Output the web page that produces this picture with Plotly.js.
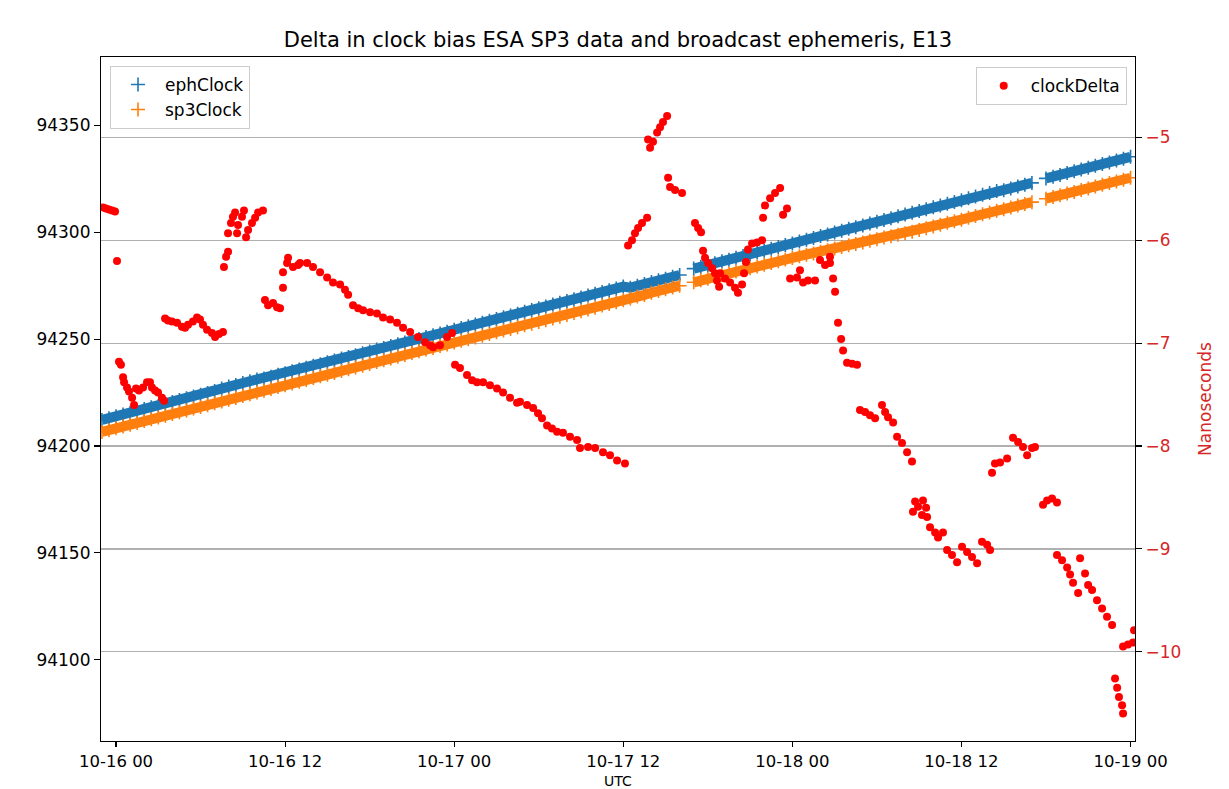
<!DOCTYPE html>
<html>
<head>
<meta charset="utf-8">
<script src="https://cdn.plot.ly/plotly-3.0.1.min.js"></script>
<style>html,body{margin:0;padding:0;background:#fff}#chart{width:1229px;height:789px}</style>
</head>
<body>
<div id="chart"></div>
<script>
// ---- data ----
const baseDateMs = Date.UTC(2022, 9, 16, 0, 0, 0); // 10-16 00 UTC
const clockStartHour = -1;
const clockStepHours = 0.5;

const ephClock = [
  94212.2, 94213.0, 94213.9, 94214.7, 94215.6, 94216.4, 94217.3, 94218.1, 94218.9, 94219.8,
  94220.6, 94221.5, 94222.3, 94223.2, 94224.0, 94224.8, 94225.7, 94226.9, 94227.8, 94228.6,
  94229.5, 94230.3, 94231.1, 94231.6, 94232.4, 94233.3, 94234.1, 94235.0, 94235.8, 94236.6,
  94237.5, 94238.3, 94239.2, 94240.0, 94240.9, 94241.7, 94242.5, 94243.4, 94244.2, 94245.1,
  94245.9, 94246.8, 94247.6, 94248.4, 94249.3, 94250.1, 94251.0, 94251.8, 94252.7, 94253.5,
  94254.4, 94255.2, 94256.0, 94256.9, 94257.7, 94258.6, 94259.4, 94260.3, 94261.1, 94261.9,
  94262.8, 94263.6, 94264.5, 94265.3, 94266.2, 94267.0, 94267.8, 94268.7, 94269.5, 94270.4,
  94271.2, 94272.1, 94272.9, 94273.7, 94274.6, 94274.1, 94275.0, 94275.8, 94276.7, 94277.5,
  94278.3, 94279.2, 94280.0, null,    94283.0, 94283.9, 94284.7, 94285.5, 94286.4, 94287.2,
  94288.1, 94288.9, 94289.8, 94290.6, 94291.4, 94292.3, 94293.1, 94294.0, 94294.8, 94295.7,
  94296.5, 94297.3, 94298.2, 94299.0, 94299.9, 94300.7, 94301.6, 94302.4, 94303.2, 94304.1,
  94304.9, 94305.8, 94306.6, 94307.5, 94308.3, 94309.1, 94310.0, 94310.8, 94311.7, 94312.5,
  94313.4, 94314.2, 94315.0, 94315.9, 94316.7, 94317.6, 94318.4, 94319.3, 94319.7, 94320.5,
  94321.4, 94322.2, 94323.1, null,    94325.2, 94326.0, 94326.8, 94327.7, 94328.5, 94329.4,
  94330.2, 94331.1, 94331.9, 94332.7, 94333.6, 94334.4, 94335.3
];

const sp3Clock = [
  94206.6, 94207.4, 94208.3, 94209.1, 94210.0, 94210.8, 94211.7, 94212.5, 94213.3, 94214.2,
  94215.0, 94215.8, 94216.6, 94217.5, 94218.3, 94219.1, 94220.0, 94220.8, 94221.7, 94222.5,
  94223.4, 94224.2, 94225.0, 94225.9, 94226.7, 94227.6, 94228.4, 94229.3, 94230.1, 94230.9,
  94231.8, 94232.6, 94233.4, 94234.2, 94235.1, 94235.9, 94236.7, 94237.6, 94238.4, 94239.3,
  94240.1, 94241.0, 94241.8, 94242.6, 94243.5, 94244.3, 94245.1, 94245.9, 94246.8, 94247.5,
  94248.4, 94249.2, 94249.9, 94250.8, 94251.6, 94252.4, 94253.2, 94254.1, 94254.8, 94255.6,
  94256.5, 94257.2, 94258.0, 94258.8, 94259.7, 94260.5, 94261.3, 94262.2, 94263.0, 94263.9,
  94264.7, 94265.7, 94266.5, 94267.3, 94268.2, 94269.0, 94269.9, 94270.7, 94271.7, 94272.5,
  94273.3, 94274.2, 94275.0, null,    94276.6, 94277.5, 94278.3, 94279.0, 94279.9, 94280.7,
  94281.6, 94282.3, 94283.2, 94284.0, 94284.8, 94285.6, 94286.4, 94287.3, 94288.0, 94288.8,
  94289.5, 94290.1, 94290.9, 94291.6, 94292.4, 94293.1, 94293.9, 94294.5, 94295.2, 94296.0,
  94296.7, 94297.5, 94298.1, 94298.9, 94299.6, 94300.3, 94301.1, 94301.9, 94302.7, 94303.5,
  94304.4, 94305.2, 94305.9, 94306.8, 94307.6, 94308.4, 94309.2, 94310.1, 94310.8, 94311.6,
  94312.5, 94313.2, 94314.1, null,    94315.7, 94316.5, 94317.3, 94318.1, 94318.9, 94319.8,
  94320.5, 94321.4, 94322.2, 94323.0, 94323.8, 94324.6, 94325.5
];

// clockDelta: hours after 10-16 00 UTC, and nanoseconds
const deltaHours = [
  -0.92,-0.71,-0.50,-0.28,-0.07,0.07,
  0.21,0.35,0.50,0.57,0.78,0.92,1.14,1.28,1.42,1.63,1.92,2.20,2.41,2.55,2.77,2.98,3.26,3.41,
  3.48,3.69,3.97,4.33,4.68,4.90,5.11,5.46,5.75,5.96,6.17,6.46,6.81,7.03,7.31,7.59,
  7.95,7.81,7.66,
  7.95,8.16,8.30,8.45,8.59,8.66,8.94,9.08,9.23,9.37,9.65,9.87,10.08,10.43,
  10.57,10.79,11.14,11.43,11.64,
  11.85,11.85,12.14,12.21,12.56,12.92,
  13.06,13.56,13.98,14.48,14.98,15.40,15.90,16.25,16.47,16.82,17.18,17.53,18.03,18.52,18.95,19.45,19.94,20.37,20.87,21.43,21.93,22.29,22.50,22.99,23.49,23.85,
  24.06,24.41,24.91,25.27,25.62,26.05,26.54,27.04,27.47,27.96,28.46,28.67,29.17,29.60,29.95,30.23,30.59,30.94,31.30,31.72,32.22,32.72,32.93,33.50,34.00,34.56,35.06,35.56,36.12,
  36.34,36.62,36.83,37.05,37.33,37.69,
  37.76,37.90,38.11,38.40,38.61,38.82,39.11,
  39.18,39.32,39.67,40.17,
  41.09,41.31,41.52,
  41.66,41.80,42.02,42.30,42.51,42.65,42.80,42.87,43.22,43.58,43.93,44.14,
  44.43,44.57,44.71,44.85,45.14,45.49,45.85,
  45.92,46.06,46.42,46.77,47.13,47.34,47.62,
  47.84,48.33,48.54,48.76,49.11,49.61,49.96,50.32,50.67,50.67,
  50.89,51.03,51.24,51.46,51.60,51.88,52.24,52.59,
  52.80,53.16,53.51,53.87,54.36,54.58,54.79,55.15,55.43,55.78,56.14,56.49,
  56.56,56.71,56.92,57.20,57.27,57.49,57.56,57.77,58.13,58.34,58.69,58.98,59.33,59.69,60.04,60.40,60.75,61.11,61.46,61.82,62.03,
  62.17,62.38,62.74,63.24,63.66,64.02,64.37,64.66,65.01,65.22,
  65.79,66.08,66.43,66.78,
  66.78,67.14,67.50,67.71,67.92,68.28,68.42,68.77,68.99,69.27,69.62,69.98,70.33,70.69,
  71.47,71.82,72.18,72.25,
  70.90,71.05,71.18,71.40,71.47
];
const deltaNs = [
  -5.68,-5.69,-5.70,-5.71,-5.72,-6.20,
  -7.18,-7.21,-7.33,-7.38,-7.43,-7.47,-7.53,-7.60,-7.44,-7.46,-7.43,-7.38,-7.38,-7.43,-7.46,-7.48,-7.53,-7.56,
  -6.76,-6.78,-6.79,-6.80,-6.84,-6.85,-6.82,-6.79,-6.75,-6.77,-6.82,-6.87,-6.90,-6.94,-6.91,-6.89,
  -6.11,-6.16,-6.26,
  -5.93,-5.83,-5.77,-5.73,-5.93,-5.85,-5.77,-5.71,-5.97,-5.90,-5.83,-5.78,-5.73,-5.71,
  -6.58,-6.63,-6.61,-6.65,-6.66,
  -6.46,-6.31,-6.22,-6.17,-6.26,-6.24,
  -6.22,-6.22,-6.26,-6.31,-6.36,-6.41,-6.43,-6.48,-6.53,-6.63,-6.66,-6.68,-6.70,-6.71,-6.75,-6.77,-6.80,-6.85,-6.89,-6.94,-6.99,-7.02,-7.04,-7.02,-6.94,-6.90,
  -7.21,-7.24,-7.31,-7.36,-7.38,-7.38,-7.41,-7.44,-7.48,-7.53,-7.58,-7.57,-7.60,-7.63,-7.68,-7.73,-7.80,-7.83,-7.86,-7.87,-7.91,-7.94,-8.02,-8.01,-8.02,-8.06,-8.09,-8.14,-8.17,
  -6.05,-6.00,-5.93,-5.88,-5.83,-5.78,
  -5.02,-5.10,-5.04,-4.95,-4.90,-4.85,-4.79,
  -5.39,-5.48,-5.51,-5.54,
  -5.83,-5.88,-5.92,
  -6.10,-6.17,-6.22,-6.27,-6.32,-6.39,-6.45,-6.32,-6.37,-6.41,-6.46,-6.51,
  -6.43,-6.32,-6.21,-6.09,-6.03,-6.02,-6.00,
  -5.78,-5.66,-5.59,-5.54,-5.49,-5.75,-5.69,
  -6.37,-6.36,-6.29,-6.41,-6.39,-6.39,-6.19,-6.24,-6.16,-6.22,
  -6.37,-6.50,-6.80,-6.96,-7.07,-7.19,-7.20,-7.21,
  -7.65,-7.67,-7.70,-7.73,-7.60,-7.67,-7.72,-7.77,-7.91,-7.97,-8.06,-8.15,
  -8.64,-8.54,-8.59,-8.67,-8.53,-8.60,-8.69,-8.79,-8.84,-8.89,-8.84,-9.01,-9.06,-9.13,-8.98,-9.03,-9.08,-9.14,-8.93,-8.96,-9.01,
  -8.26,-8.17,-8.16,-8.12,-7.92,-7.96,-8.01,-8.09,-8.02,-8.01,
  -8.57,-8.53,-8.51,-8.55,
  -9.06,-9.11,-9.18,-9.25,-9.33,-9.43,-9.09,-9.24,-9.35,-9.40,-9.50,-9.58,-9.66,-9.74,
  -9.95,-9.93,-9.91,-9.79,
  -10.26,-10.35,-10.44,-10.52,-10.60
];

const leftTicks = [94100, 94150, 94200, 94250, 94300, 94350];
const rightTicks = [-10, -9, -8, -7, -6, -5];

// ---- build ----
const H = 3600 * 1000;
const clockTimes = ephClock.map((_, i) => baseDateMs + (clockStartHour + i * clockStepHours) * H);
const deltaTimes = deltaHours.map(h => baseDateMs + h * H);

const BLUE = '#1f77b4', ORANGE = '#ff7f0e';
const FONT = 'DejaVu Sans';

const traces = [
  {x: clockTimes, y: ephClock, type: 'scatter', mode: 'lines', connectgaps: false,
   line: {color: BLUE, width: 10}, showlegend: false, hoverinfo: 'skip'},
  {x: clockTimes, y: sp3Clock, type: 'scatter', mode: 'lines', connectgaps: false,
   line: {color: ORANGE, width: 10}, showlegend: false, hoverinfo: 'skip'},
  {x: clockTimes, y: ephClock, type: 'scatter', mode: 'markers', name: 'ephClock',
   marker: {symbol: 'cross-thin', size: 10, color: BLUE, line: {color: BLUE, width: 1.6}}},
  {x: clockTimes, y: sp3Clock, type: 'scatter', mode: 'markers', name: 'sp3Clock',
   marker: {symbol: 'cross-thin', size: 10, color: ORANGE, line: {color: ORANGE, width: 1.6}}},
  {x: deltaTimes, y: deltaNs, type: 'scatter', mode: 'markers', name: 'clockDelta',
   yaxis: 'y2', legend: 'legend2',
   marker: {symbol: 'circle', size: 8, color: '#ff0000'}}
];

const layout = {
  width: 1229, height: 789,
  margin: {l: 101, r: 94, t: 57, b: 48, pad: 0},
  paper_bgcolor: '#ffffff', plot_bgcolor: '#ffffff',
  font: {family: FONT, size: 17, color: '#000000'},
  title: {text: 'Delta in clock bias ESA SP3 data and broadcast ephemeris, E13',
          font: {family: FONT, size: 21, color: '#000000'},
          x: 0.5, xref: 'paper', xanchor: 'center', y: 1 - 40 / 789, yref: 'container', yanchor: 'middle'},
  xaxis: {
    type: 'date',
    range: ['2022-10-15 22:56', '2022-10-19 00:19'],
    tick0: '2022-10-16 00:00', dtick: 12 * H, tickformat: '%m-%d %H',
    ticks: 'outside', ticklen: 5, tickwidth: 1.1, tickcolor: '#000',
    showline: true, linecolor: '#000', linewidth: 1.1, mirror: true,
    showgrid: false, zeroline: false,
    tickfont: {family: FONT, size: 16.5, color: '#000'}
  },
  yaxis: {
    range: [94062, 94382],
    tickvals: leftTicks, ticktext: leftTicks.map(String),
    ticks: 'outside', ticklen: 6, tickwidth: 1.1, tickcolor: '#000',
    showline: true, linecolor: '#000', linewidth: 1.1, mirror: true,
    showgrid: false, zeroline: false,
    tickfont: {family: FONT, size: 17, color: '#000'}
  },
  yaxis2: {
    overlaying: 'y', side: 'right',
    range: [-10.868, -4.217],
    tickvals: rightTicks,
    ticks: 'outside', ticklen: 6, tickwidth: 1.1, tickcolor: '#000',
    showline: true, linecolor: '#000', linewidth: 1.1,
    showgrid: true, gridcolor: '#b0b0b0', gridwidth: 1.3, zeroline: false,
    tickfont: {family: FONT, size: 17, color: '#d62728'},
    title: {text: 'Nanoseconds', font: {family: FONT, size: 17, color: '#d62728'}, standoff: 18}
  },
  annotations: [{
    text: 'UTC', showarrow: false,
    xref: 'paper', yref: 'paper', x: 0.5, y: -(781 - 741) / 684,
    xanchor: 'center', yanchor: 'middle',
    font: {family: FONT, size: 14, color: '#000'}
  }],
  legend: {
    x: 0.0087, y: 0.987, xanchor: 'left', yanchor: 'top',
    bgcolor: 'rgba(255,255,255,0.8)', bordercolor: '#cccccc', borderwidth: 1,
    font: {family: FONT, size: 17, color: '#000'}, itemwidth: 44, tracegroupgap: 0
  },
  legend2: {
    x: 0.992, y: 0.985, xanchor: 'right', yanchor: 'top',
    bgcolor: 'rgba(255,255,255,0.8)', bordercolor: '#cccccc', borderwidth: 1,
    font: {family: FONT, size: 17, color: '#000'}, itemwidth: 44
  },
  showlegend: true
};

Plotly.newPlot('chart', traces, layout, {displayModeBar: false, staticPlot: true});
</script>
</body>
</html>
